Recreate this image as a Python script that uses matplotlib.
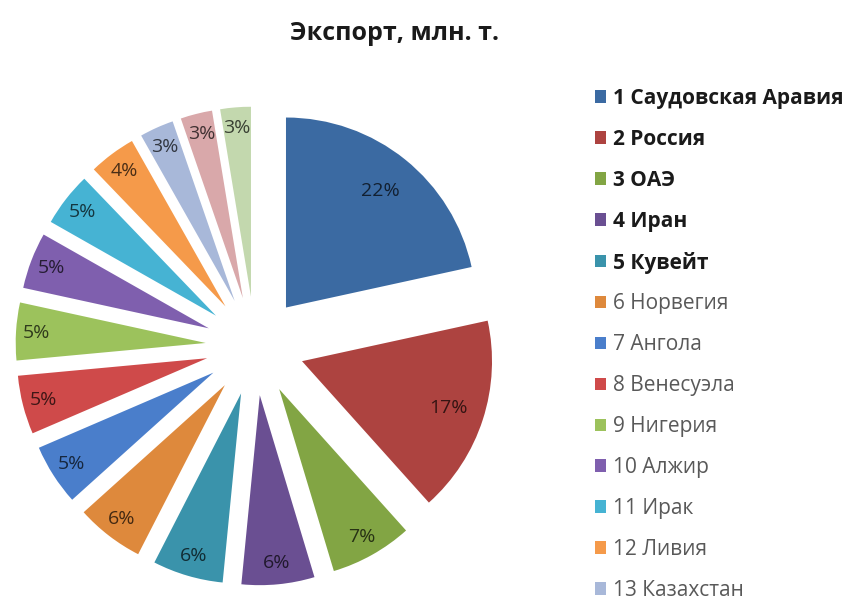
import math
import matplotlib
matplotlib.use("Agg")
import matplotlib.pyplot as plt
from matplotlib.colors import to_rgb

plt.rcParams['font.family'] = ['Open Sans', 'DejaVu Sans']

title = "Экспорт, млн. т."
countries = ["1 Саудовская Аравия", "2 Россия", "3 ОАЭ", "4 Иран", "5 Кувейт",
             "6 Норвегия", "7 Ангола", "8 Венесуэла", "9 Нигерия", "10 Алжир",
             "11 Ирак", "12 Ливия", "13 Казахстан", "14", "15"]
shares = [21.6, 16.8, 7.0, 6.2, 6.0, 5.8, 5.2, 5.0, 4.9, 4.8, 4.6, 4.0, 2.9, 2.7, 2.6]
colors = ["#3b6aa2", "#ad4340", "#82a544", "#6a4f92", "#3a93ab", "#de893c",
          "#4a7ecb", "#cf4a4a", "#9cc25c", "#7f5fae", "#46b3d3", "#f59a4a",
          "#a8b8d9", "#d9a8aa", "#c3d8ae"]
legend_shown = 13
bold_entries = 5

W, H, DPI = 856, 602, 100
fig = plt.figure(figsize=(W / DPI, H / DPI), dpi=DPI)

# pie geometry in pixels
cx, cy, r_px = 255, 346, 190
lim = 1.45
side = 2 * lim * r_px
ax = fig.add_axes([(cx - side / 2) / W, (H - cy - side / 2) / H, side / W, side / H])

explode = 0.26
wedges, texts, autotexts = ax.pie(
    shares, colors=colors, startangle=90, counterclock=False,
    explode=[explode] * len(shares), autopct='%1.0f%%', pctdistance=0.85,
    wedgeprops=dict(linewidth=0), textprops=dict(fontsize=14),
    radius=1.0, frame=False)
ax.set_xlim(-lim, lim)
ax.set_ylim(-lim, lim)
ax.set_aspect('equal')
ax.axis('off')

# label radius: large slices keep their labels further inside
label_r = [0.79, 0.81] + [0.89] * (len(shares) - 2)
for w, t, c, lr in zip(wedges, autotexts, colors, label_r):
    cx_w, cy_w = w.center
    ang = math.radians((w.theta1 + w.theta2) / 2)
    t.set_position((cx_w + lr * math.cos(ang), cy_w + lr * math.sin(ang)))
    rgb = to_rgb(c)
    t.set_color(tuple(v * 0.3 for v in rgb))

fig.text(395 / W, 1 - 33 / H, title, ha='center', va='center',
         fontsize=18, fontweight='bold', color='#1a1a1a')

leg = fig.legend(wedges[:legend_shown], countries[:legend_shown],
                 loc='upper left', bbox_to_anchor=(595 / W, 1 - 88 / H),
                 bbox_transform=fig.transFigure, frameon=False, fontsize=15,
                 handlelength=0.55, handleheight=0.55, handletextpad=0.3,
                 labelspacing=0.955, borderpad=0, borderaxespad=0)
for i, txt in enumerate(leg.get_texts()):
    if i < bold_entries:
        txt.set_fontweight('bold')
        txt.set_color('#1a1a1a')
    else:
        txt.set_color('#595959')

fig.savefig("out.png", dpi=DPI)
